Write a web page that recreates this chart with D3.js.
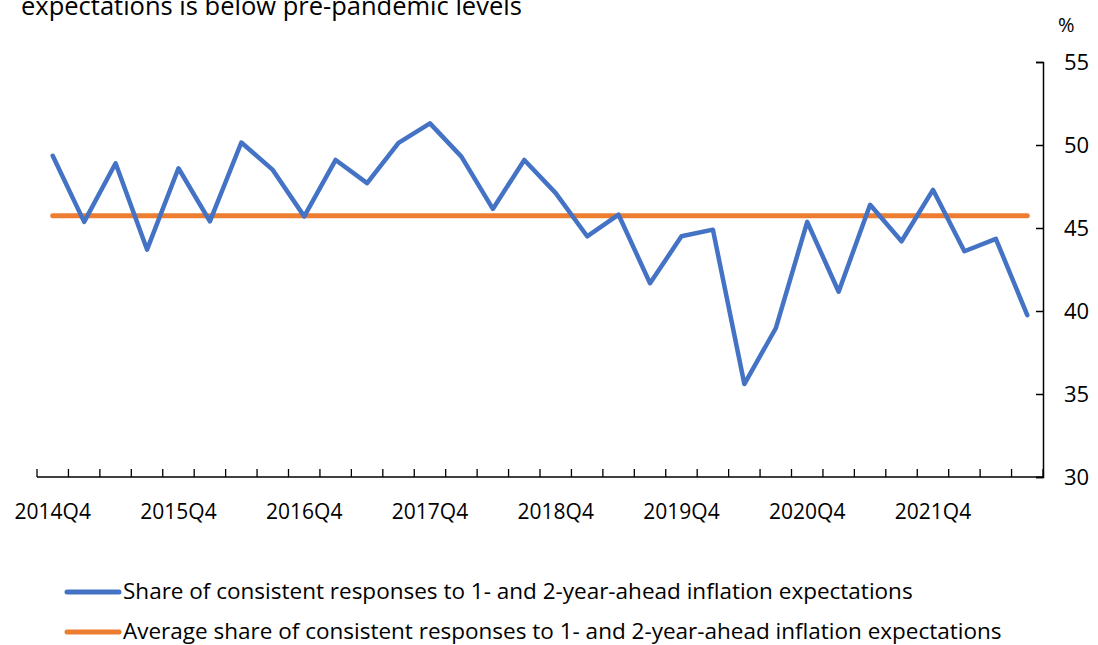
<!DOCTYPE html>
<html><head><meta charset="utf-8">
<script src="https://cdn.jsdelivr.net/npm/d3@7"></script>
<style>
body{margin:0;background:#fff;}
text{font-family:"Open Sans","Noto Sans",sans-serif;fill:#000;}
</style></head>
<body><svg id="c" width="1098" height="645"></svg>
<script>
const categories = [
"2014Q4","2015Q1","2015Q2","2015Q3","2015Q4","2016Q1","2016Q2","2016Q3",
"2016Q4","2017Q1","2017Q2","2017Q3","2017Q4","2018Q1","2018Q2","2018Q3",
"2018Q4","2019Q1","2019Q2","2019Q3","2019Q4","2020Q1","2020Q2","2020Q3",
"2020Q4","2021Q1","2021Q2","2021Q3","2021Q4","2022Q1","2022Q2","2022Q3"];
const shareValues = [
49.35,45.37,48.9,43.7,48.6,45.4,50.15,48.5,
45.7,49.1,47.7,50.13,51.3,49.3,46.15,49.1,
47.1,44.5,45.8,41.67,44.5,44.9,35.6,38.96,
45.37,41.16,46.4,44.2,47.3,43.6,44.35,39.75];
const averageValues = categories.map(() => 45.74);
const yTicks = [30,35,40,45,50,55];
const xLabels = ["2014Q4","2015Q4","2016Q4","2017Q4","2018Q4","2019Q4","2020Q4","2021Q4"];
const seriesNames = [
"Share of consistent responses to 1- and 2-year-ahead inflation expectations",
"Average share of consistent responses to 1- and 2-year-ahead inflation expectations"];
const colors = ["#4472C4","#ED7D31"];
const titleText = "expectations is below pre-pandemic levels";

(function(){
const svg = d3.select("#c");
const mLeft = 37, mRight = 1043, mTop = 62, mBottom = 477;
const x = d3.scaleBand().domain(categories).range([mLeft, mRight]).padding(0);
const y = d3.scaleLinear().domain([30,55]).range([mBottom, mTop]);
const cx = d => x(d) + x.bandwidth()/2;

svg.append("text").attr("x",21).attr("y",15).style("font-size","25.5px").text(titleText);

const xa = svg.append("g").attr("transform",`translate(0,${mBottom})`)
  .call(d3.axisBottom(x).tickValues(xLabels).tickSize(0).tickPadding(27));
xa.select(".domain").remove();
xa.selectAll("text").style("font-size","21px").style("font-family","'Open Sans',sans-serif").attr("fill","#000");
const bounds = categories.map(c => x(c)).concat([mRight]);
svg.append("line").attr("x1",mLeft).attr("x2",mRight).attr("y1",mBottom).attr("y2",mBottom)
  .attr("stroke","#000").attr("stroke-width",1.5);
svg.append("g").selectAll("line").data(bounds).join("line")
  .attr("x1",d=>d).attr("x2",d=>d).attr("y1",mBottom).attr("y2",mBottom-8)
  .attr("stroke","#000").attr("stroke-width",1.3);

const ya = svg.append("g").attr("transform",`translate(${mRight},0)`)
  .call(d3.axisRight(y).tickValues(yTicks).tickSize(-7).tickPadding(21));
ya.select(".domain").attr("stroke","#000").attr("stroke-width",1.5);
ya.selectAll(".tick line").attr("stroke","#000").attr("stroke-width",1.5);
ya.selectAll("text").style("font-size","22px").style("font-family","'Open Sans',sans-serif").attr("fill","#000");
svg.append("text").attr("x",1058).attr("y",32).style("font-size","20px").text("%");

const line = d3.line().x((d,i)=>cx(categories[i])).y(d=>y(d));
svg.append("path").datum(averageValues).attr("d",line).attr("fill","none")
  .attr("stroke",colors[1]).attr("stroke-width",5).attr("stroke-linecap","round");
svg.append("path").datum(shareValues).attr("d",line).attr("fill","none")
  .attr("stroke",colors[0]).attr("stroke-width",4.5).attr("stroke-linejoin","round").attr("stroke-linecap","round");

const lg = svg.append("g");
seriesNames.forEach((n,i)=>{
  const ly = 592 + i*40;
  lg.append("line").attr("x1",67).attr("x2",119).attr("y1",ly).attr("y2",ly)
    .attr("stroke",colors[i]).attr("stroke-width",5).attr("stroke-linecap","round");
  lg.append("text").attr("x",123).attr("y",ly+7).style("font-size","22.5px").text(n);
});
})();
</script></body></html>
